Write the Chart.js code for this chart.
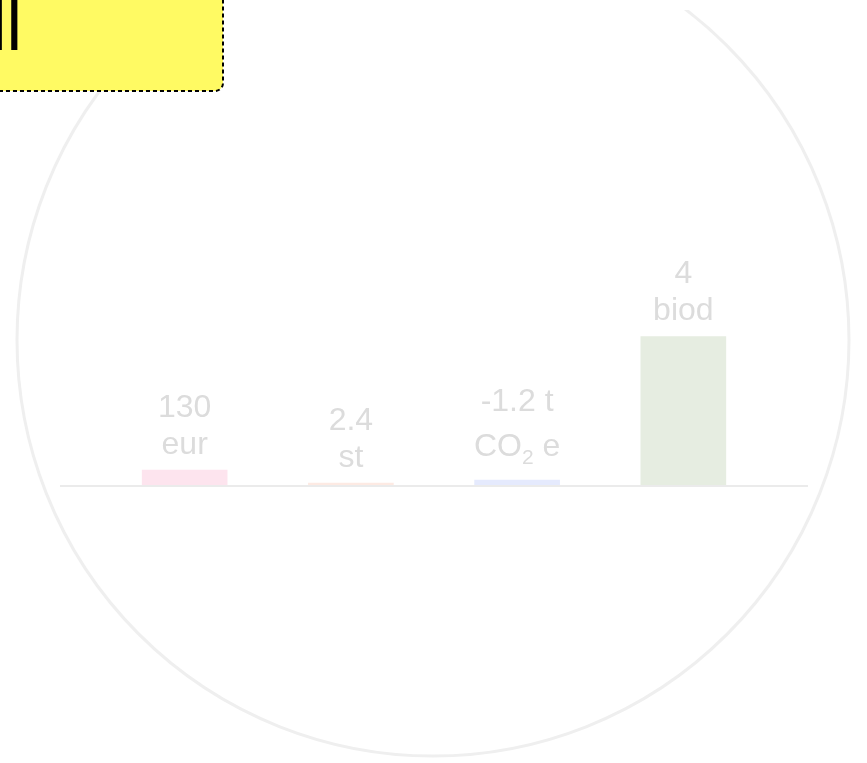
<!DOCTYPE html>
<html lang="sv">
<head>
<meta charset="utf-8">
<title>Modell</title>
<script src="https://cdn.jsdelivr.net/npm/chart.js@4.4.1/dist/chart.umd.min.js"></script>
<style>
    html, body { margin: 0; padding: 0; background: #fff; overflow: hidden; }
    #wrap { width: 867px; height: 763px; }
</style>
</head>
<body>
<div id="wrap"><canvas id="impactChart" width="867" height="763"></canvas></div>
<script>
const categories = ['Kostnad', 'Antal', 'Klimat', 'Biodiversitet'];
const values = [130, 2.4, -1.2, 4];
const valueUnits = ['', '', ' t', ''];
const unitLabels = ['eur', 'st', 'CO₂ e', 'biod'];
const barColors = ['#fde4ee', '#fdeae3', '#e5eafd', '#e6ede1'];

// every bar has its own hidden axis; this is the value reached at the top edge
const axisTops = [3950, 390, 97, 13];
// share of the plot height below the zero line, relative to the part above
const belowZero = 277 / 486;

const fontFamily = '"Liberation Sans", Arial, sans-serif';
const labelSize = 32;
const subSize = 21;
const subDrop = 8;
const labelGap = 16;
const lineHeight = 37;

const SUBSCRIPTS = '₀₁₂₃₄₅₆₇₈₉';

// split a label into plain runs and subscript runs (₀-₉ become lowered digits)
function splitRuns(text) {
    const runs = [];
    for (const ch of text) {
        const idx = SUBSCRIPTS.indexOf(ch);
        const sub = idx >= 0;
        const c = sub ? String(idx) : ch;
        const last = runs[runs.length - 1];
        if (last && last.sub === sub) last.text += c;
        else runs.push({ text: c, sub });
    }
    return runs;
}

function runFont(run) {
    return (run.sub ? subSize : labelSize) + 'px ' + fontFamily;
}

// draws centred text, returns nothing; descentOf gives how far ink reaches below the baseline
function drawRich(ctx, text, cx, baseline) {
    const runs = splitRuns(text);
    let total = 0;
    runs.forEach(r => {
        ctx.font = runFont(r);
        r.w = ctx.measureText(r.text).width;
        total += r.w;
    });
    let x = cx - total / 2;
    ctx.textAlign = 'left';
    runs.forEach(r => {
        ctx.font = runFont(r);
        ctx.fillText(r.text, x, baseline + (r.sub ? subDrop : 0));
        x += r.w;
    });
}

function descentOf(ctx, text) {
    let d = 0;
    splitRuns(text).forEach(r => {
        ctx.font = runFont(r);
        const m = ctx.measureText(r.text).actualBoundingBoxDescent;
        d = Math.max(d, m + (r.sub ? subDrop : 0));
    });
    return Math.max(0, d);
}

const scales = {
    x: { type: 'linear', display: false, offset: false, min: -0.75, max: 3.75 }
};
values.forEach((v, i) => {
    const top = axisTops[i];
    // negative values are drawn upwards too, so their axis is flipped
    scales['y' + i] = {
        type: 'linear',
        display: false,
        reverse: v < 0,
        min: v < 0 ? -top : -top * belowZero,
        max: v < 0 ? top * belowZero : top
    };
});

const datasets = values.map((v, i) => ({
    label: categories[i],
    data: [{ x: i, y: v }],
    xAxisID: 'x',
    yAxisID: 'y' + i,
    backgroundColor: barColors[i],
    borderWidth: 0,
    barThickness: 85,
    grouped: false
}));

const ringPlugin = {
    id: 'ring',
    beforeDraw(chart) {
        const { ctx, width, height } = chart;
        ctx.save();
        ctx.fillStyle = '#fff';
        ctx.fillRect(0, 0, width, height);
        ctx.beginPath();
        ctx.rect(0, 10, width, height - 10);
        ctx.clip();
        ctx.beginPath();
        ctx.arc(433, 340, 416, 0, Math.PI * 2);
        ctx.lineWidth = 3;
        ctx.strokeStyle = '#efefef';
        ctx.stroke();
        ctx.restore();
    }
};

const barLabelPlugin = {
    id: 'barLabels',
    afterDatasetsDraw(chart) {
        const { ctx, chartArea } = chart;
        const zero = chart.scales.y0.getPixelForValue(0);

        ctx.save();
        ctx.beginPath();
        ctx.moveTo(chartArea.left, zero);
        ctx.lineTo(chartArea.right, zero);
        ctx.lineWidth = 2;
        ctx.strokeStyle = '#ebebeb';
        ctx.stroke();

        ctx.fillStyle = '#dcdcdc';
        ctx.textBaseline = 'alphabetic';
        values.forEach((v, i) => {
            const bar = chart.getDatasetMeta(i).data[0];
            const top = Math.min(bar.y, bar.base);
            const unitDescent = descentOf(ctx, unitLabels[i]);
            const unitBase = top - labelGap - unitDescent;
            drawRich(ctx, unitLabels[i], bar.x, unitBase);
            drawRich(ctx, String(v) + valueUnits[i], bar.x, unitBase - lineHeight - unitDescent);
        });
        ctx.restore();
    }
};

const noteBoxPlugin = {
    id: 'noteBox',
    afterDraw(chart) {
        const { ctx } = chart;
        ctx.save();
        ctx.beginPath();
        ctx.roundRect(-10, -10, 233, 101, 8);
        ctx.fillStyle = '#fffa63';
        ctx.fill();
        ctx.setLineDash([4, 3]);
        ctx.lineWidth = 2;
        ctx.strokeStyle = '#000';
        ctx.stroke();
        ctx.font = '70px ' + fontFamily;
        ctx.fillStyle = '#000';
        ctx.textAlign = 'right';
        ctx.textBaseline = 'alphabetic';
        ctx.fillText('Modell', 22, 50);
        ctx.restore();
    }
};

new Chart(document.getElementById('impactChart').getContext('2d'), {
    type: 'bar',
    data: { datasets },
    options: {
        responsive: false,
        animation: false,
        layout: { padding: { left: 60, right: 59, top: 0, bottom: 0 } },
        scales,
        plugins: {
            legend: { display: false },
            title: { display: false },
            tooltip: { enabled: false }
        }
    },
    plugins: [ringPlugin, barLabelPlugin, noteBoxPlugin]
});
</script>
</body>
</html>
